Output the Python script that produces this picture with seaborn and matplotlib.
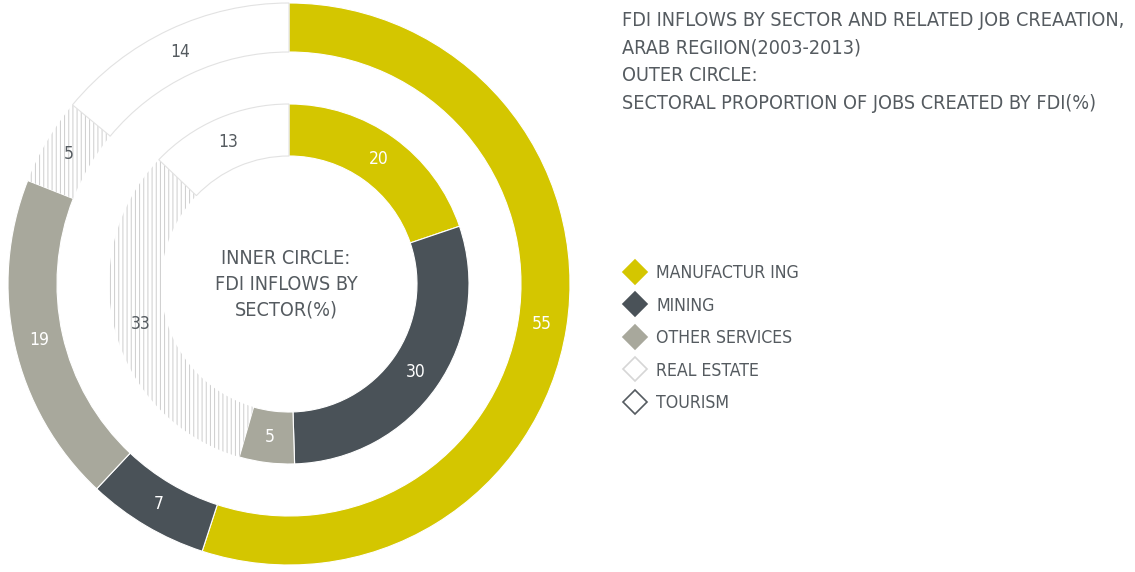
import matplotlib
matplotlib.use("Agg")
import numpy as np
import matplotlib.pyplot as plt
from matplotlib.lines import Line2D
import seaborn as sns

# Datos
sectors = ["MANUFACTUR ING", "MINING", "OTHER SERVICES", "REAL ESTATE", "TOURISM"]
jobs_pct = [55, 7, 19, 5, 14]        # anillo exterior
inflows_pct = [20, 30, 5, 33, 13]    # anillo interior
colors = ["#d4c600", "#4a5258", "#a8a89c", "#ffffff", "#ffffff"]
hatches = [None, None, None, "||||", None]
label_colors = ["white", "white", "white", "#555b60", "#555b60"]

title_lines = [
    "FDI INFLOWS BY SECTOR AND RELATED JOB CREAATION,",
    "ARAB REGIION(2003-2013)",
    "OUTER CIRCLE:",
    "SECTORAL PROPORTION OF JOBS CREATED BY FDI(%)",
]
center_text = "INNER CIRCLE:\nFDI INFLOWS BY\nSECTOR(%)"
TXT = "#555b60"

sns.set_theme(style="white")
plt.rcParams['font.family'] = ['DejaVu Sans']
plt.rcParams['font.stretch'] = 'condensed'
plt.rcParams['hatch.linewidth'] = 0.7

W, H = 1135, 572
fig = plt.figure(figsize=(W / 100, H / 100), dpi=100)
ax = fig.add_axes([0, 0, 1, 1])
ax.set_xlim(0, W)
ax.set_ylim(0, H)
ax.set_aspect("equal")
ax.axis("off")
cx, cy = 289, H - 284
renderer = fig.canvas.get_renderer()


def fit_width(t, target_px):
    # ajusta el tamaño de letra para que el texto ocupe target_px de ancho
    w = t.get_window_extent(renderer).width
    t.set_fontsize(t.get_fontsize() * target_px / w)


def ring(values, r_out, r_in, lab_r):
    wedges, _ = ax.pie(
        values, colors=colors, startangle=90, counterclock=False,
        radius=r_out, center=(cx, cy), frame=True,
        wedgeprops=dict(width=r_out - r_in, linewidth=0.8, edgecolor="white"),
    )
    for w, h, v, lc in zip(wedges, hatches, values, label_colors):
        if h:
            w.set_hatch(h)
            w.set_edgecolor("#cdcdcd")
            w.set_linewidth(0.0)
        elif w.get_facecolor()[:3] == (1.0, 1.0, 1.0):
            w.set_edgecolor("#e2e2e2")
        ang = np.deg2rad((w.theta1 + w.theta2) / 2)
        ax.text(cx + lab_r * np.cos(ang), cy + lab_r * np.sin(ang), str(v),
                ha="center", va="center", fontsize=12.5, color=lc)
    return wedges


ring(jobs_pct, 281, 232, 256)
ring(inflows_pct, 180, 128, 154)

ct = ax.text(286, cy, center_text, ha="center", va="center", fontsize=14,
             color=TXT, linespacing=1.45)
fit_width(ct, 144)

t0 = None
for i, line in enumerate(title_lines):
    t = ax.text(622, H - 20 - i * 27.7, line, ha="left", va="center",
                fontsize=14, color=TXT)
    if i == 0:
        fit_width(t, 506)
        t0 = t.get_fontsize()
    else:
        t.set_fontsize(t0)

handles = []
for c, h in zip(colors, hatches):
    ec = c
    if c == "#ffffff":
        ec = "#d6d6d6" if h else TXT
    handles.append(Line2D([], [], marker="D", linestyle="none", markersize=12,
                          markerfacecolor=c, markeredgecolor=ec, markeredgewidth=1.2))
probe = ax.text(0, 0, sectors[0], fontsize=13)
fit_width(probe, 143)
leg_fs = probe.get_fontsize()
probe.remove()
ax.legend(handles, sectors, loc="upper left", bbox_to_anchor=(614 / W, 1 - 257 / H),
          frameon=False, fontsize=leg_fs, labelcolor=TXT, handlelength=1.6,
          handletextpad=0.4, labelspacing=0.82, borderaxespad=0)

ax.set_xlim(0, W)
ax.set_ylim(0, H)
ax.axis("off")

fig.savefig("out.png", dpi=100)
